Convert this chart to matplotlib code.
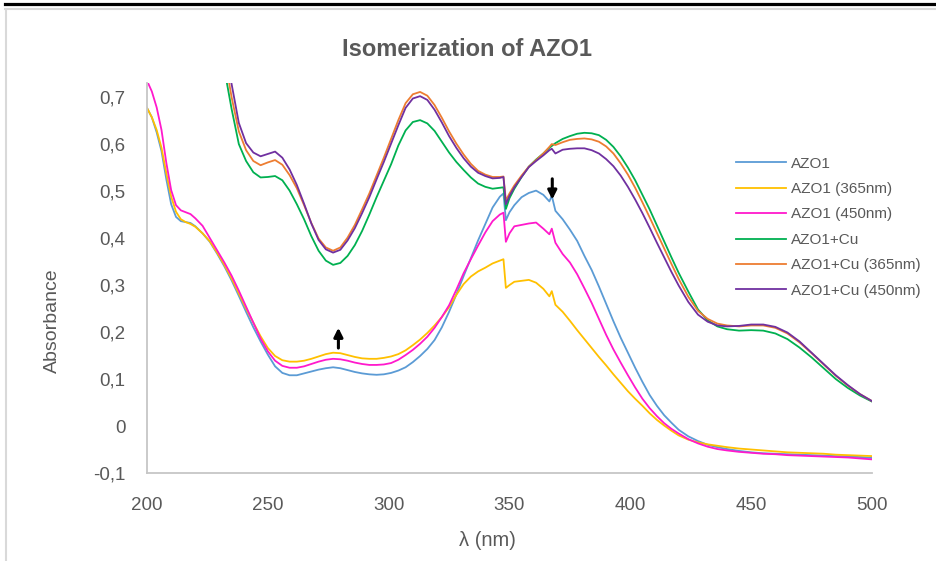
import matplotlib
matplotlib.use("Agg")
import matplotlib.pyplot as plt
from matplotlib.lines import Line2D
from matplotlib.ticker import FuncFormatter

plt.rcParams['font.family'] = ['Liberation Sans', 'DejaVu Sans']
plt.rcParams['axes.unicode_minus'] = False

# wavelength grid (nm)
wl = [200, 202, 204, 206, 208, 210, 212, 214, 216, 218, 220,
      223, 226, 229, 232, 235, 238, 241, 244, 247, 250, 253, 256, 259, 262,
      265, 268, 271, 274, 277, 280, 283, 286, 289, 292, 295, 298, 301, 304,
      307, 310, 313, 316, 319, 322, 325, 328, 331, 334, 337, 340, 343, 346,
      347.5, 348.5, 350, 352, 355, 358, 361, 364, 366.5, 367.5, 369,
      372, 375, 378, 381, 384, 387, 390, 393, 396, 399, 402, 405, 408, 411,
      414, 417, 420,
      424, 428, 432, 436, 440,
      445, 450, 455, 460, 465, 470, 475, 480, 485, 490, 495, 500]

azo1 = [0.677, 0.657, 0.625, 0.585, 0.525, 0.472, 0.445, 0.436, 0.434, 0.432, 0.425,
        0.410, 0.392, 0.367, 0.340, 0.310, 0.277, 0.243, 0.210, 0.180, 0.152, 0.127, 0.113, 0.108, 0.108,
        0.112, 0.116, 0.120, 0.123, 0.125, 0.123, 0.119, 0.115, 0.112, 0.110, 0.109, 0.110, 0.113, 0.118,
        0.125, 0.136, 0.149, 0.164, 0.183, 0.210, 0.243, 0.280, 0.319, 0.357, 0.395, 0.430, 0.465, 0.488,
        0.495, 0.438, 0.455, 0.470, 0.487, 0.496, 0.501, 0.492, 0.478, 0.490, 0.458,
        0.440, 0.418, 0.394, 0.362, 0.332, 0.297, 0.260, 0.223, 0.188, 0.156, 0.124, 0.094, 0.066, 0.043,
        0.023, 0.007, -0.008,
        -0.022, -0.032, -0.040, -0.045, -0.049,
        -0.053, -0.056, -0.058, -0.059, -0.060, -0.061, -0.062, -0.063, -0.064, -0.065, -0.066, -0.068]

azo1_365 = [0.677, 0.657, 0.630, 0.592, 0.538, 0.488, 0.456, 0.440, 0.434, 0.430, 0.424,
            0.410, 0.393, 0.369, 0.343, 0.314, 0.282, 0.250, 0.220, 0.191, 0.166, 0.149, 0.140, 0.137, 0.137,
            0.139, 0.143, 0.148, 0.153, 0.156, 0.155, 0.151, 0.147, 0.144, 0.143, 0.143, 0.145, 0.148, 0.153,
            0.161, 0.172, 0.184, 0.198, 0.214, 0.232, 0.253, 0.279, 0.302, 0.318, 0.329, 0.337, 0.346, 0.352,
            0.355, 0.294, 0.300, 0.307, 0.309, 0.311, 0.305, 0.292, 0.276, 0.287, 0.258,
            0.243, 0.224, 0.204, 0.185, 0.166, 0.147, 0.129, 0.110, 0.092, 0.074, 0.058, 0.043, 0.027, 0.013,
            0.001, -0.010, -0.020,
            -0.029, -0.035, -0.039, -0.042, -0.045,
            -0.048, -0.050, -0.052, -0.054, -0.056, -0.057, -0.058, -0.059, -0.061, -0.062, -0.063, -0.064]

azo1_450 = [0.735, 0.712, 0.678, 0.630, 0.560, 0.502, 0.470, 0.459, 0.455, 0.451, 0.442,
            0.426, 0.400, 0.374, 0.348, 0.320, 0.288, 0.254, 0.220, 0.186, 0.159, 0.139, 0.128, 0.124, 0.124,
            0.127, 0.132, 0.137, 0.141, 0.143, 0.142, 0.139, 0.135, 0.132, 0.130, 0.130, 0.131, 0.134, 0.141,
            0.151, 0.162, 0.175, 0.190, 0.209, 0.232, 0.257, 0.290, 0.325, 0.355, 0.384, 0.412, 0.436, 0.450,
            0.454, 0.392, 0.410, 0.425, 0.428, 0.431, 0.433, 0.420, 0.408, 0.420, 0.390,
            0.366, 0.348, 0.323, 0.293, 0.262, 0.228, 0.194, 0.163, 0.135, 0.108, 0.082, 0.058, 0.038, 0.021,
            0.006, -0.006, -0.016,
            -0.028, -0.037, -0.044, -0.049, -0.052,
            -0.055, -0.057, -0.059, -0.060, -0.062, -0.063, -0.064, -0.065, -0.066, -0.067, -0.069, -0.071]

# Cu complex spectra are off scale below ~230 nm
cu = [None] * 11 + [
    1.06, 0.96, 0.86, 0.76, 0.675, 0.600, 0.564, 0.540, 0.529, 0.530, 0.532, 0.523, 0.501, 0.472,
    0.440, 0.404, 0.373, 0.352, 0.343, 0.347, 0.362, 0.385, 0.415, 0.450, 0.487, 0.522, 0.557, 0.597,
    0.629, 0.647, 0.651, 0.644, 0.628, 0.605, 0.582, 0.562, 0.545, 0.529, 0.516, 0.509, 0.505, 0.507,
    0.508, 0.462, 0.485, 0.505, 0.530, 0.552, 0.567, 0.580, 0.592, 0.596, 0.602,
    0.611, 0.617, 0.622, 0.624, 0.623, 0.619, 0.609, 0.594, 0.574, 0.550, 0.523, 0.492, 0.461, 0.427,
    0.393, 0.359, 0.326,
    0.286, 0.248, 0.225, 0.212, 0.206,
    0.203, 0.204, 0.203, 0.197, 0.185, 0.167, 0.146, 0.123, 0.100, 0.081, 0.065, 0.052]

cu_365 = [None] * 11 + [
    1.08, 0.99, 0.89, 0.79, 0.700, 0.627, 0.587, 0.564, 0.555, 0.561, 0.566, 0.556, 0.534, 0.506,
    0.470, 0.432, 0.399, 0.380, 0.373, 0.380, 0.401, 0.428, 0.461, 0.495, 0.533, 0.571, 0.611, 0.651,
    0.687, 0.706, 0.711, 0.703, 0.683, 0.656, 0.627, 0.601, 0.578, 0.558, 0.543, 0.535, 0.530, 0.530,
    0.531, 0.480, 0.495, 0.512, 0.533, 0.552, 0.566, 0.580, 0.594, 0.600, 0.598,
    0.604, 0.609, 0.611, 0.612, 0.610, 0.605, 0.595, 0.580, 0.559, 0.535, 0.507, 0.476, 0.444, 0.411,
    0.378, 0.345, 0.313,
    0.275, 0.245, 0.228, 0.218, 0.214,
    0.212, 0.214, 0.214, 0.209, 0.197, 0.178, 0.155, 0.131, 0.107, 0.086, 0.068, 0.053]

cu_450 = [None] * 11 + [
    1.11, 1.02, 0.92, 0.82, 0.728, 0.645, 0.602, 0.582, 0.574, 0.579, 0.584, 0.571, 0.546, 0.513,
    0.473, 0.431, 0.396, 0.376, 0.369, 0.375, 0.395, 0.421, 0.453, 0.487, 0.525, 0.562, 0.601, 0.640,
    0.677, 0.697, 0.702, 0.694, 0.673, 0.646, 0.617, 0.592, 0.570, 0.552, 0.539, 0.532, 0.527, 0.528,
    0.530, 0.472, 0.490, 0.508, 0.530, 0.551, 0.564, 0.576, 0.587, 0.590, 0.580,
    0.588, 0.590, 0.591, 0.591, 0.587, 0.580, 0.568, 0.553, 0.533, 0.509, 0.482, 0.453, 0.422, 0.390,
    0.359, 0.328, 0.299,
    0.264, 0.237, 0.222, 0.214, 0.212,
    0.213, 0.216, 0.216, 0.211, 0.199, 0.180, 0.156, 0.132, 0.108, 0.087, 0.068, 0.053]

labels = ['AZO1', 'AZO1 (365nm)', 'AZO1 (450nm)',
          'AZO1+Cu', 'AZO1+Cu (365nm)', 'AZO1+Cu (450nm)']
colors = ['#5B9BD5', '#FFC000', '#FF19CC', '#00B050', '#ED7D31', '#7030A0']
series = [azo1, azo1_365, azo1_450, cu, cu_365, cu_450]

x_ticks = [200, 250, 300, 350, 400, 450, 500]
y_ticks = [-0.1, 0, 0.1, 0.2, 0.3, 0.4, 0.5, 0.6, 0.7]

W, H = 936, 561
TEXT = '#595959'


def fx(px):
    return px / W


def fy(py):
    return 1 - py / H


def y_fmt(v, pos):
    if abs(v) < 1e-9:
        return '0'
    return f'{v:.1f}'.replace('.', ',')


fig = plt.figure(figsize=(W / 100, H / 100), dpi=100)
ax = fig.add_axes([fx(147), fy(473), fx(872) - fx(147), fy(83) - fy(473)])

for vals, lab, col in zip(series, labels, colors):
    ys = [float('nan') if v is None else v for v in vals]
    ax.plot(wl, ys, color=col, lw=1.3, label=lab)

ax.set_xlim(200, 500)
ax.set_ylim(-0.1, 0.73)
ax.set_xticks(x_ticks)
ax.set_yticks(y_ticks)
ax.yaxis.set_major_formatter(FuncFormatter(y_fmt))
ax.tick_params(length=0, labelsize=13.5, colors=TEXT)
ax.tick_params(axis='x', pad=17)
ax.tick_params(axis='y', pad=15.5)

for side in ['top', 'right']:
    ax.spines[side].set_visible(False)
for side in ['left', 'bottom']:
    ax.spines[side].set_color('#c6c6c6')
    ax.spines[side].set_linewidth(1.3)

# arrows showing the change after irradiation
ax.annotate('', xy=(279.2, 0.215), xytext=(279.2, 0.160),
            arrowprops=dict(arrowstyle='-|>', color='black', lw=2.2, mutation_scale=13))
ax.annotate('', xy=(367.7, 0.476), xytext=(367.7, 0.532),
            arrowprops=dict(arrowstyle='-|>', color='black', lw=2.2, mutation_scale=13))

leg = ax.legend(loc='upper left', bbox_to_anchor=(fx(736), fy(156.5)),
                bbox_transform=fig.transFigure, frameon=False, fontsize=11,
                handlelength=3.3, handletextpad=0.33, labelspacing=0.75,
                borderpad=0, borderaxespad=0)
for t in leg.get_texts():
    t.set_color(TEXT)

fig.text(fx(467), fy(50), 'Isomerization of AZO1', ha='center', va='center',
         fontsize=17, fontweight='bold', color=TEXT)
fig.text(fx(52), fy(321), 'Absorbance', ha='center', va='center',
         rotation=90, fontsize=14, color=TEXT)
fig.text(fx(487), fy(540), 'λ (nm)', ha='center', va='center',
         fontsize=14.5, color=TEXT)

# chart frame
fig.add_artist(Line2D([fx(5), fx(936)], [fy(4), fy(4)], color='black', lw=2.3))
fig.add_artist(Line2D([fx(5), fx(936)], [fy(9), fy(9)], color='#d9d9d9', lw=1.5))
fig.add_artist(Line2D([fx(5.5), fx(5.5)], [fy(9), fy(561)], color='#d9d9d9', lw=1.5))

fig.savefig('out.png', dpi=100)
